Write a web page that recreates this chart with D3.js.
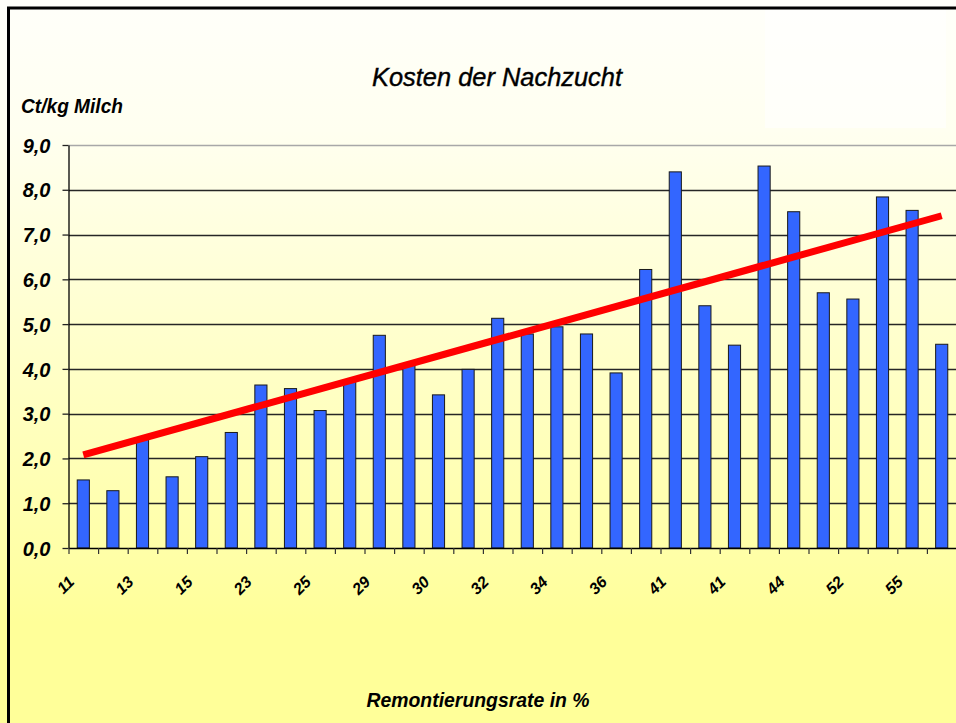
<!DOCTYPE html>
<meta charset="utf-8">
<style>

body { margin: 0; }

svg text {
  font-family: "Liberation Sans", Arial, sans-serif;
  font-style: italic;
  font-weight: bold;
  fill: #000;
}

.grid line {
  stroke: #262626;
  stroke-width: 1.3px;
}

.bars rect {
  fill: #3366ff;
  stroke: #1a1a1a;
  stroke-width: 1px;
}

</style>
<svg width="956" height="723"></svg>
<script src="https://d3js.org/d3.v7.min.js"></script>
<script>

    // values (Ct/kg Milch), one per bar
    var costs = [1.52, 1.28, 2.45, 1.59, 2.04, 2.58, 3.64, 3.56, 3.07, 3.72,
                 4.75, 4.10, 3.42, 3.99, 5.13, 4.78, 4.94, 4.78, 3.91, 6.22,
                 8.40, 5.41, 4.53, 8.53, 7.51, 5.70, 5.56, 7.84, 7.54, 4.55];

    // only every second category carries a label
    var rateLabels = ["11", "13", "15", "23", "25", "29", "30", "32",
                      "34", "36", "41", "41", "44", "52", "55"];

    var yTicks = [0, 1, 2, 3, 4, 5, 6, 7, 8, 9];

    // linear trend: value at first and last bar
    var trendIndex = [0, 29];
    var trendValue = [2.08, 7.42];

    var svg = d3.select("svg"),
        width = +svg.attr("width"),
        height = +svg.attr("height");

    var plotLeft = 68.5, plotRight = 956.5, plotTop = 145, plotBottom = 548;

    // background
    var defs = svg.append("defs");
    var grad = defs.append("linearGradient")
        .attr("id", "bg")
        .attr("x1", 0).attr("y1", 0).attr("x2", 0).attr("y2", 1);
    grad.append("stop").attr("offset", "0%").attr("stop-color", "#fffffa");
    grad.append("stop").attr("offset", "18%").attr("stop-color", "#fffff0");
    grad.append("stop").attr("offset", "76%").attr("stop-color", "#ffffa8");
    grad.append("stop").attr("offset", "86%").attr("stop-color", "#ffff99");
    grad.append("stop").attr("offset", "100%").attr("stop-color", "#ffff99");

    svg.append("rect")
        .attr("x", 0).attr("y", 0)
        .attr("width", width).attr("height", height)
        .attr("fill", "url(#bg)");

    svg.append("rect")
        .attr("x", 765).attr("y", 10)
        .attr("width", 181).attr("height", 118)
        .attr("fill", "#ffffff")
        .attr("opacity", 0.6);

    // frame (left and top)
    svg.append("path")
        .attr("d", "M8.5,723V8H956")
        .attr("fill", "none")
        .attr("stroke", "#000")
        .attr("stroke-width", 3);

    var x = d3.scaleBand()
        .domain(d3.range(costs.length))
        .range([plotLeft, plotRight])
        .paddingInner(0.59)
        .paddingOuter(0.295);

    var xEdge = d3.scaleLinear()
        .domain([0, costs.length])
        .range([plotLeft, plotRight]);

    var y = d3.scaleLinear()
        .domain([0, 9])
        .range([plotBottom, plotTop]);

    var fmt = d3.formatLocale({ decimal: ",", thousands: ".", grouping: [3], currency: ["", "€"] }).format(".1f");

    // gridlines
    svg.append("g")
        .attr("class", "grid")
        .selectAll("line")
        .data(yTicks.slice(1))
        .enter().append("line")
        .attr("x1", plotLeft)
        .attr("x2", plotRight)
        .attr("y1", function (d) { return Math.round(y(d)) + 0.5; })
        .attr("y2", function (d) { return Math.round(y(d)) + 0.5; })
        .style("stroke", function (d) { return d === 9 ? "#a8a8a8" : null; })
        .style("stroke-width", function (d) { return d === 9 ? "1.6px" : null; });

    // bars
    svg.append("g")
        .attr("class", "bars")
        .selectAll("rect")
        .data(costs)
        .enter().append("rect")
        .attr("x", function (d, i) { return x(i); })
        .attr("y", function (d) { return y(d); })
        .attr("width", x.bandwidth())
        .attr("height", function (d) { return plotBottom - y(d); });

    // y axis
    var yAxis = svg.append("g")
        .attr("transform", "translate(" + plotLeft + ",0)")
        .call(d3.axisLeft(y)
            .tickValues(yTicks)
            .tickSize(6)
            .tickSizeOuter(0)
            .tickPadding(12)
            .tickFormat(fmt));
    yAxis.select(".domain").attr("stroke", "#000").attr("stroke-width", 1.3);
    yAxis.selectAll(".tick line").attr("stroke", "#222").attr("stroke-width", 1.3);
    yAxis.selectAll(".tick text")
        .attr("font-size", 20)
        .attr("font-family", null)
        .attr("dy", "0.36em");

    // x axis (ticks at category borders)
    var xAxis = svg.append("g")
        .attr("transform", "translate(0," + plotBottom + ")")
        .call(d3.axisBottom(xEdge)
            .ticks(costs.length)
            .tickSize(6)
            .tickSizeOuter(0)
            .tickFormat(""));
    xAxis.select(".domain").attr("stroke", "#000").attr("stroke-width", 1.3);
    xAxis.selectAll(".tick line").attr("stroke", "#333").attr("stroke-width", 1.2);

    svg.append("g")
        .selectAll("text")
        .data(rateLabels)
        .enter().append("text")
        .attr("transform", function (d, i) {
            var cx = x(i * 2) + x.bandwidth() / 2;
            return "translate(" + (cx - 8) + ",583) rotate(-45)";
        })
        .attr("text-anchor", "end")
        .attr("font-size", 16)
        .text(function (d) { return d; });

    // trend line
    var line = d3.line()
        .x(function (d) { return x(d[0]) + x.bandwidth() / 2; })
        .y(function (d) { return y(d[1]); });

    svg.append("path")
        .datum(d3.zip(trendIndex, trendValue))
        .attr("d", line)
        .attr("fill", "none")
        .attr("stroke", "#ff0000")
        .attr("stroke-width", 7);

    // titles
    svg.append("text")
        .attr("x", 497)
        .attr("y", 86)
        .attr("text-anchor", "middle")
        .attr("font-size", 26)
        .attr("textLength", 250)
        .attr("lengthAdjust", "spacingAndGlyphs")
        .style("font-weight", "normal")
        .style("stroke", "#000")
        .style("stroke-width", "0.4px")
        .text("Kosten der Nachzucht");

    svg.append("text")
        .attr("x", 21)
        .attr("y", 113)
        .attr("font-size", 20)
        .attr("textLength", 102)
        .attr("lengthAdjust", "spacingAndGlyphs")
        .text("Ct/kg Milch");

    svg.append("text")
        .attr("x", 478)
        .attr("y", 707)
        .attr("text-anchor", "middle")
        .attr("font-size", 21)
        .attr("textLength", 223)
        .attr("lengthAdjust", "spacingAndGlyphs")
        .text("Remontierungsrate in %");

</script>
